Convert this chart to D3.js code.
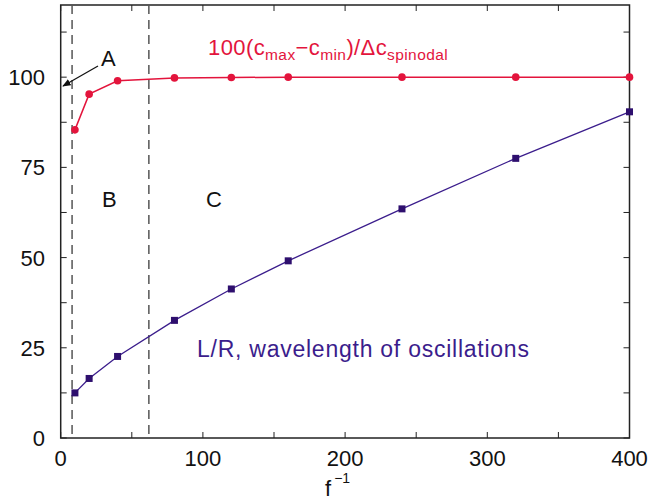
<!DOCTYPE html>
<html>
<head>
<meta charset="utf-8">
<script src="https://cdn.jsdelivr.net/npm/d3@7"></script>
<style>
  body { margin: 0; background: #fff; }
  svg text { font-family: "Liberation Sans", Arial, Helvetica, sans-serif; }
</style>
</head>
<body>
<svg id="chart" width="650" height="501"></svg>
<script>
// data
const fInv = [10, 20, 40, 80, 120, 160, 240, 320, 400];
const amplitude = [85.4, 95.3, 99.0, 99.8, 99.9, 100, 100, 100, 100];   // 100(cmax-cmin)/dc_spinodal
const wavelength = [12.5, 16.5, 22.6, 32.6, 41.3, 49.1, 63.5, 77.5, 90.4]; // L/R
const regionBounds = [8, 62];
const xTicks = [0, 100, 200, 300, 400];
const yTicks = [0, 25, 50, 75, 100];

const red = "#e3143c";
const purple = "#3b1d8c";
const purpleDark = "#2e0f6e";

const svg = d3.select("#chart");
const margin = {left: 60.7, right: 20.5, top: 5, bottom: 63};
const W = 650, H = 501;

const x = d3.scaleLinear().domain([0, 400]).range([margin.left, W - margin.right]);
const y = d3.scaleLinear().domain([0, 120]).range([H - margin.bottom, margin.top]);

// frame
svg.append("rect")
    .attr("x", x(0)).attr("y", y(120))
    .attr("width", x(400) - x(0)).attr("height", y(0) - y(120))
    .attr("fill", "none").attr("stroke", "#222").attr("stroke-width", 1.5);

// ticks pointing inward, on all four sides
const xMinor = d3.range(0, 401, 50);
const yMinor = d3.range(0, 120.1, 12.5);
const tickLen = 6;
const tg = svg.append("g").attr("stroke", "#222").attr("stroke-width", 1);
xMinor.forEach(v => {
    tg.append("line").attr("x1", x(v)).attr("x2", x(v)).attr("y1", y(0)).attr("y2", y(0) - tickLen);
    tg.append("line").attr("x1", x(v)).attr("x2", x(v)).attr("y1", y(120)).attr("y2", y(120) + tickLen);
});
yMinor.forEach(v => {
    tg.append("line").attr("x1", x(0)).attr("x2", x(0) + tickLen).attr("y1", y(v)).attr("y2", y(v));
    tg.append("line").attr("x1", x(400)).attr("x2", x(400) - tickLen).attr("y1", y(v)).attr("y2", y(v));
});

// tick labels
svg.append("g").selectAll("text").data(xTicks).join("text")
    .attr("x", d => x(d)).attr("y", 466)
    .attr("text-anchor", "middle").attr("font-size", 22).attr("fill", "#111")
    .text(d => d);
svg.append("g").selectAll("text").data(yTicks).join("text")
    .attr("x", 45).attr("y", d => y(d) + 8)
    .attr("text-anchor", "end").attr("font-size", 22).attr("fill", "#111")
    .text(d => d);

// axis title f^-1
const xt = svg.append("text").attr("x", 325).attr("y", 496).attr("font-size", 22).attr("fill", "#111");
xt.append("tspan").text("f");
xt.append("tspan").attr("dx", 3).attr("dy", -13).attr("font-size", 14).text("\u22121");

// dashed region boundaries
svg.append("g").selectAll("line").data(regionBounds).join("line")
    .attr("x1", d => x(d)).attr("x2", d => x(d))
    .attr("y1", y(120)).attr("y2", y(0))
    .attr("stroke", "#555").attr("stroke-width", 1.5)
    .attr("stroke-dasharray", "9,6");

// series lines
const line = d3.line().x(d => x(d[0])).y(d => y(d[1]));
svg.append("path").datum(d3.zip(fInv, amplitude))
    .attr("d", line).attr("fill", "none").attr("stroke", red).attr("stroke-width", 1.5);
svg.append("path").datum(d3.zip(fInv, wavelength))
    .attr("d", line).attr("fill", "none").attr("stroke", purple).attr("stroke-width", 1.3);

// markers
svg.append("g").selectAll("circle").data(d3.zip(fInv, amplitude)).join("circle")
    .attr("cx", d => x(d[0])).attr("cy", d => y(d[1])).attr("r", 3.8).attr("fill", red);
const s = 7;
svg.append("g").selectAll("rect").data(d3.zip(fInv, wavelength)).join("rect")
    .attr("x", d => x(d[0]) - s / 2).attr("y", d => y(d[1]) - s / 2)
    .attr("width", s).attr("height", s).attr("fill", purpleDark);

// series labels
const rl = svg.append("text").attr("x", 208).attr("y", 55).attr("font-size", 22)
    .attr("letter-spacing", 0.4).attr("fill", red);
rl.append("tspan").text("100(c");
rl.append("tspan").attr("dy", 5).attr("font-size", 15.5).text("max");
rl.append("tspan").attr("dy", -5).text("\u2212c");
rl.append("tspan").attr("dy", 5).attr("font-size", 15.5).text("min");
rl.append("tspan").attr("dy", -5).text(")/\u0394c");
rl.append("tspan").attr("dy", 5).attr("font-size", 15.5).text("spinodal");

svg.append("text").attr("x", 197).attr("y", 357).attr("font-size", 23)
    .attr("letter-spacing", 0.75).attr("fill", purple)
    .text("L/R, wavelength of oscillations");

// region letters
svg.append("text").attr("x", 101).attr("y", 66).attr("font-size", 22).attr("fill", "#111").text("A");
svg.append("text").attr("x", 102).attr("y", 207).attr("font-size", 22).attr("fill", "#111").text("B");
svg.append("text").attr("x", 206).attr("y", 207).attr("font-size", 22).attr("fill", "#111").text("C");

// arrow for A
svg.append("defs").append("marker")
    .attr("id", "ah").attr("viewBox", "0 0 10 10").attr("refX", 9).attr("refY", 5)
    .attr("markerWidth", 7).attr("markerHeight", 7).attr("orient", "auto")
    .append("path").attr("d", "M0,1 L10,5 L0,9 z").attr("fill", "#111");
svg.append("line")
    .attr("x1", 98).attr("y1", 66).attr("x2", 63).attr("y2", 86)
    .attr("stroke", "#111").attr("stroke-width", 1.2).attr("marker-end", "url(#ah)");
</script>
</body>
</html>
